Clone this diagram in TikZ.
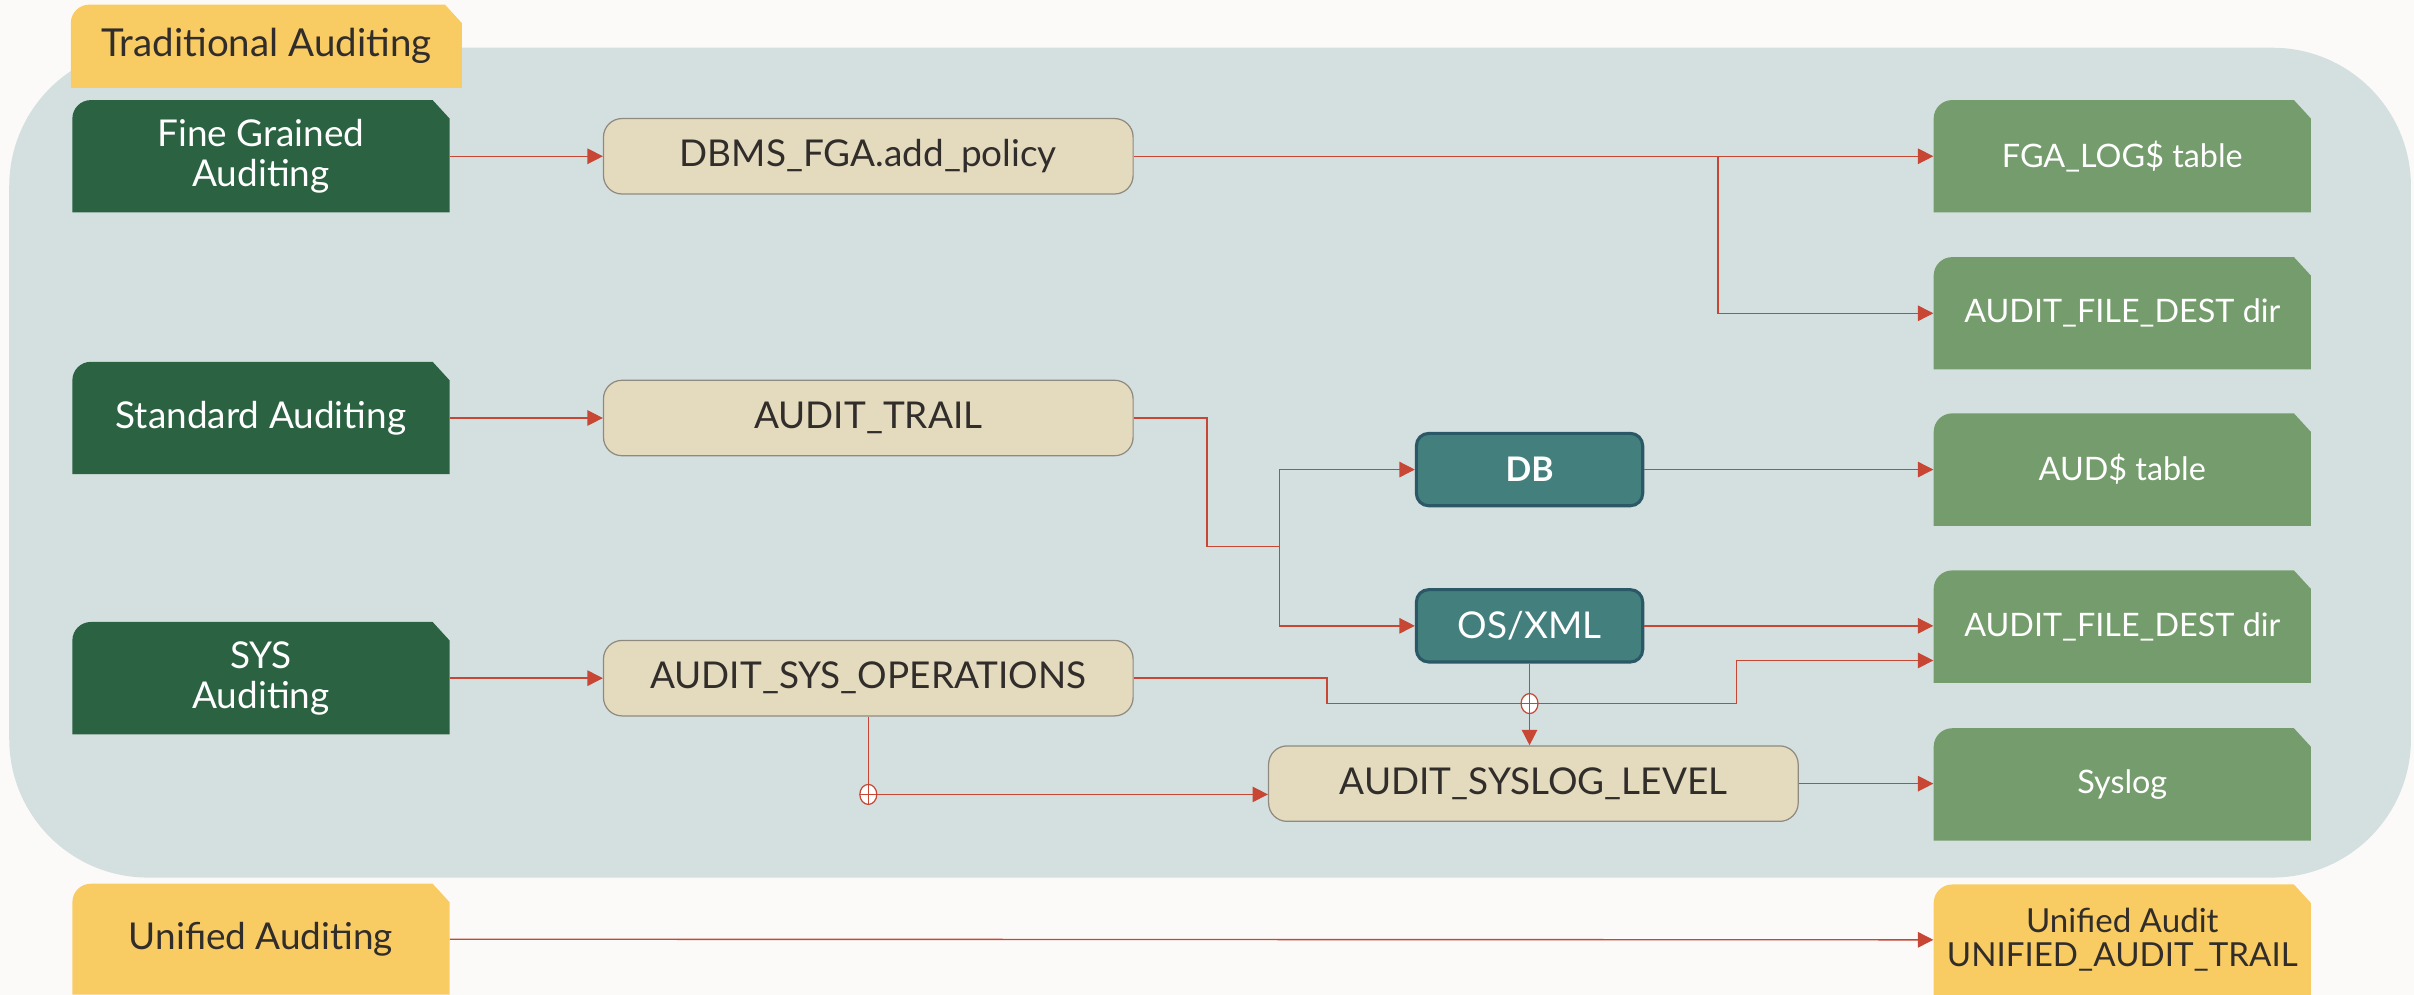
\documentclass[tikz,border=0pt]{standalone}
\usepackage{fontspec}
\setmainfont{Lato}
\usetikzlibrary{arrows.meta,shapes.geometric}
\definecolor{pagebg}{HTML}{FBFAF8}
\definecolor{panel}{HTML}{D4E0E0}
\definecolor{yel}{HTML}{F9CC63}
\definecolor{dkgreen}{HTML}{2B6242}
\definecolor{ltgreen}{HTML}{759C6C}
\definecolor{beige}{HTML}{E4DBBF}
\definecolor{beigeline}{HTML}{8F8A80}
\definecolor{tealfill}{HTML}{427F7D}
\definecolor{tealline}{HTML}{2A5866}
\definecolor{linered}{HTML}{C74634}
\definecolor{darktext}{HTML}{312D2A}
\begin{document}
\begin{tikzpicture}[x=1pt,y=-1pt,
  font=\fontsize{24}{26}\selectfont,
  tabbox/.style={inner sep=0pt, align=center, path picture={
    \fill[#1] (path picture bounding box.south west)
      -- ([yshift=-12pt]path picture bounding box.north west)
      arc[start angle=180,end angle=90,radius=12pt]
      -- ([xshift=-11pt]path picture bounding box.north east)
      -- ([yshift=-12pt]path picture bounding box.north east)
      -- (path picture bounding box.south east) -- cycle;}},
  leftbox/.style={tabbox=dkgreen, text=white, minimum width=245pt, minimum height=73pt},
  rightbox/.style={tabbox=ltgreen, text=white, minimum width=245pt, minimum height=73pt,
    font=\fontsize{21}{22}\selectfont},
  param/.style={draw=beigeline, fill=beige, line width=0.8pt, rounded corners=12pt,
    minimum width=344pt, minimum height=49pt, inner sep=0pt, text=darktext},
  store/.style={draw=tealline, fill=tealfill, line width=2pt, rounded corners=8pt,
    minimum width=147pt, minimum height=47pt, inner sep=0pt, text=white},
  conn/.style={draw=linered, line width=0.9pt, -{Triangle[length=10pt,width=10pt]}},
  plain/.style={draw=linered, line width=0.9pt},
  jump/.style={ellipse, draw=linered, fill=white, line width=0.8pt, minimum width=11pt,
    minimum height=13pt, inner sep=0pt, path picture={\draw[linered, line width=0.8pt]
      (path picture bounding box.north) -- (path picture bounding box.south)
      (path picture bounding box.west) -- (path picture bounding box.east);}}
]
\useasboundingbox (0,0) rectangle (1568,646);
\fill[pagebg] (0,0) rectangle (1568,646);
\fill[panel, rounded corners=90pt] (6,31) rectangle (1566,570);

% titles
\node[tabbox=yel, text=darktext, minimum width=254pt, minimum height=54pt,
  font=\fontsize{25}{27}\selectfont] (trad) at (173,30) {Traditional Auditing};

% left sources
\node[leftbox] (fga) at (169.5,101.5) {Fine Grained\\Auditing};
\node[leftbox] (std) at (169.5,271.5) {Standard Auditing};
\node[leftbox] (sys) at (169.5,440.5) {SYS\\Auditing};
\node[tabbox=yel, text=darktext, minimum width=245pt, minimum height=72pt] (uni) at (169.5,610) {Unified Auditing};

% parameters
\node[param] (pol) at (564,101.5) {DBMS\_FGA.add\_policy};
\node[param] (trail) at (564,271.5) {AUDIT\_TRAIL};
\node[param] (sysop) at (564,440.5) {AUDIT\_SYS\_OPERATIONS};
\node[param] (lvl) at (996,509) {AUDIT\_SYSLOG\_LEVEL};

% stores
\node[store, font=\fontsize{22}{24}\selectfont\bfseries] (db) at (993.5,305) {DB};
\node[store] (osx) at (993.5,406.5) {OS/XML};

% destinations
\node[rightbox] (fgalog) at (1378.5,101.5) {FGA\_LOG\$ table};
\node[rightbox] (afd1) at (1378.5,203.5) {AUDIT\_FILE\_DEST dir};
\node[rightbox] (aud) at (1378.5,305) {AUD\$ table};
\node[rightbox] (afd2) at (1378.5,407) {AUDIT\_FILE\_DEST dir};
\node[rightbox] (slog) at (1378.5,509.5) {Syslog};
\node[tabbox=yel, text=darktext, minimum width=245pt, minimum height=72pt,
  font=\fontsize{21.5}{22}\selectfont] (ua) at (1378.5,610.5) {Unified Audit\\UNIFIED\_AUDIT\_TRAIL};

% junction points
\coordinate (b1) at (1116,101.5);
\coordinate (j1) at (831,355);
\coordinate (s1) at (862,457);
\coordinate (s2) at (1128,429);

% connectors
\draw[conn] (fga) -- (pol);
\draw[conn] (pol) -- (fgalog);
\draw[conn] (b1) |- (afd1.west);
\draw[conn] (std) -- (trail);
\draw[plain] (trail.east) -| (784,355) -- (j1);
\draw[conn] (j1) |- (db.west);
\draw[conn] (j1) |- (osx.west);
\draw[conn] (db) -- (aud);
\draw[conn] (osx.east) -- (osx.east -| afd2.west);
\draw[conn] (sys) -- (sysop);
\draw[conn] (sysop.east) -| (s1) -| (s2) -- (s2 -| afd2.west);
\draw[conn] (osx.south) -- (osx.south |- lvl.north);
\draw[conn] (sysop.south) |- ([yshift=-7pt]lvl.west);
\draw[conn] (lvl.east) -- (lvl.east -| slog.west);
\draw[conn] (uni) -- (ua);

% crossing markers
\node[jump] (m1) at (osx.south |- s1) {};
\node[jump] (m2) at (sysop.south |- 0,516) {};
\end{tikzpicture}
\end{document}
